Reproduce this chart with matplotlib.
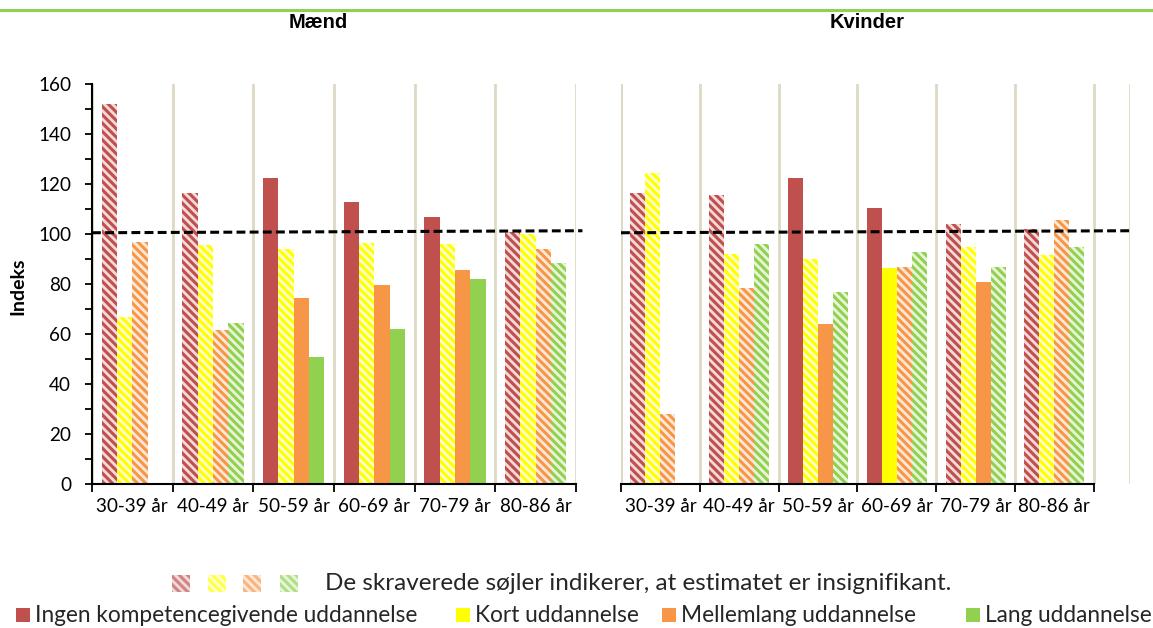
import numpy as np
import matplotlib.pyplot as plt
import matplotlib.ticker as ticker
from matplotlib.patches import Rectangle
from matplotlib.lines import Line2D

# ---- data ----
age_groups = ["30-39 år", "40-49 år", "50-59 år", "60-69 år", "70-79 år", "80-86 år"]
series_names = ["Ingen kompetencegivende uddannelse", "Kort uddannelse",
                "Mellemlang uddannelse", "Lang uddannelse"]
colors = ["#C0504D", "#FFFF00", "#F79646", "#92D050"]

men_ingen = [152, 116.5, 122.5, 113, 107, 101]
men_kort = [67, 95.5, 94, 96.5, 96, 100]
men_mellem = [97, 61.5, 74.5, 79.5, 85.5, 94]
men_lang = [np.nan, 64.5, 51, 62, 82, 88.5]
men_insig = [
    [True, True, False, False, False, True],
    [True, True, True, True, True, True],
    [True, True, False, False, False, True],
    [False, True, False, False, False, True],
]

women_ingen = [116.5, 115.5, 122.5, 110.5, 104, 102]
women_kort = [124.5, 92, 90, 86.5, 95, 91.5]
women_mellem = [28, 78.5, 64, 87, 81, 105.5]
women_lang = [np.nan, 96, 77, 93, 87, 95]
women_insig = [
    [True, True, False, False, True, True],
    [True, True, True, False, True, True],
    [True, True, False, True, False, True],
    [False, True, True, True, True, True],
]

ref_start, ref_end = 100.5, 101.3

note_text = "De skraverede søjler indikerer, at estimatet er insignifikant."

W, H = 1153, 628
plt.rcParams['font.family'] = ['Lato', 'DejaVu Sans']
plt.rcParams['hatch.linewidth'] = 2.0

fig = plt.figure(figsize=(W / 100, H / 100), dpi=100)

GRID = "#DDD9C3"
HATCH = (1, 1, 1, 0.8)
HATCH_PAT = "\\\\\\\\"


def draw_panel(ax, vals, insig, xmax, show_y):
    x = np.arange(len(age_groups))
    w = 0.19
    offsets = [-1.5 * w, -0.5 * w, 0.5 * w, 1.5 * w]
    for i, v in enumerate(vals):
        for j in range(len(age_groups)):
            if np.isnan(v[j]):
                continue
            if insig[i][j]:
                ax.bar(x[j] + offsets[i], v[j], w, color=colors[i], hatch=HATCH_PAT,
                       edgecolor=HATCH, linewidth=0, zorder=2)
            else:
                ax.bar(x[j] + offsets[i], v[j], w, color=colors[i], linewidth=0, zorder=2)
    ax.set_xlim(-0.5, xmax)
    ax.set_ylim(0, 160)
    ax.plot([-0.5, xmax], [ref_start, ref_end], ls=(0, (2.9, 1.4)), color="black",
            lw=2.2, zorder=3, clip_on=False)

    ax.xaxis.set_major_locator(ticker.FixedLocator(np.arange(-0.5, 6, 1)))
    ax.xaxis.set_major_formatter(ticker.NullFormatter())
    ax.xaxis.set_minor_locator(ticker.FixedLocator(x))
    ax.xaxis.set_minor_formatter(ticker.FixedFormatter(age_groups))
    ax.tick_params(axis="x", which="major", direction="out", length=6, width=1.3)
    ax.tick_params(axis="x", which="minor", length=0, pad=10, labelsize=13.6)
    ax.grid(axis="x", which="major", color=GRID, lw=2, zorder=0)
    ax.grid(axis="y", visible=False)
    ax.spines["top"].set_visible(False)
    ax.spines["right"].set_visible(False)
    ax.spines["bottom"].set_bounds(-0.5, 5.5)
    ax.spines["bottom"].set_linewidth(1.5)
    ax.spines["bottom"].set_zorder(4)
    if xmax > 5.6:
        ax.axvline(xmax, color=GRID, lw=2, zorder=0)
    if show_y:
        ax.yaxis.set_major_locator(ticker.MultipleLocator(20))
        ax.yaxis.set_minor_locator(ticker.MultipleLocator(10))
        ax.tick_params(axis="y", which="both", direction="out", length=5, width=1.3,
                       labelsize=13.6, pad=10)
        ax.spines["left"].set_linewidth(1.5)
    else:
        ax.spines["left"].set_visible(False)
        ax.set_yticks([])


ax1 = fig.add_axes([92 / W, (H - 484) / H, (576 - 92) / W, 400 / H])
draw_panel(ax1, [men_ingen, men_kort, men_mellem, men_lang], men_insig, 5.5, True)
ax1.lines[0].set_xdata([-0.5, 5.58])

ax2 = fig.add_axes([621 / W, (H - 484) / H, (1130 - 621) / W, 400 / H])
draw_panel(ax2, [women_ingen, women_kort, women_mellem, women_lang], women_insig, 5.96, False)
ax2.axvline(-0.5, color=GRID, lw=2, zorder=0)

# titles and axis label
fig.text(318 / W, 1 - 22 / H, "Mænd", ha="center", va="center", fontsize=14.5,
         fontweight="bold", family=["Liberation Sans Narrow", "Liberation Sans"])
fig.text(867 / W, 1 - 22 / H, "Kvinder", ha="center", va="center", fontsize=14.5,
         fontweight="bold", family=["Liberation Sans Narrow", "Liberation Sans"])
fig.text(18 / W, 1 - 286 / H, "Indeks", rotation=90, ha="center", va="center",
         fontsize=14, fontweight="bold")

# green rule at the top
fig.add_artist(Line2D([0, 1], [1 - 10 / H, 1 - 10 / H], color="#92D050", lw=2.2,
                      transform=fig.transFigure))

# note line with hatched swatches
for k, c in enumerate(colors):
    x0 = [172, 208, 243, 280][k]
    fig.add_artist(Rectangle((x0 / W, 1 - 592 / H), 18 / W, 17 / H, facecolor=c,
                             hatch=HATCH_PAT, edgecolor=HATCH, linewidth=0,
                             transform=fig.transFigure, alpha=0.7))
fig.text(325 / W, 1 - 584 / H, note_text, ha="left", va="center", fontsize=17.5,
         color="#262626")

# series legend: swatch + label
for k, (name, c) in enumerate(zip(series_names, colors)):
    x0 = [16, 456, 662, 966][k]
    fig.add_artist(Rectangle((x0 / W, 1 - 622 / H), 14 / W, 14 / H, facecolor=c,
                             linewidth=0, transform=fig.transFigure))
    fig.text((x0 + 19) / W, 1 - 615 / H, name, ha="left", va="center", fontsize=16.3,
             color="#262626")

fig.savefig("out.png", dpi=100)
